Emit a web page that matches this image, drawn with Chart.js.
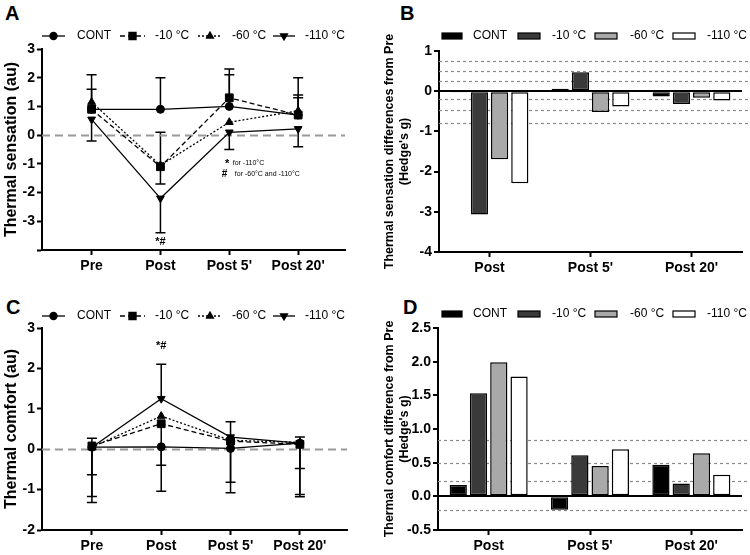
<!DOCTYPE html>
<html>
<head>
<meta charset="utf-8">
<script src="https://cdn.jsdelivr.net/npm/chart.js@4.4.1/dist/chart.umd.min.js"></script>
<style>
  body { margin: 0; background: #fff; width: 750px; height: 555px; position: relative; overflow: hidden; }
  canvas { position: absolute; }
  .lab { position: absolute; font: bold 20px "Liberation Sans", Arial, sans-serif; color: #000; }
</style>
</head>
<body>
<div class="lab" style="left:5px;top:2px">A</div>
<div class="lab" style="left:400px;top:2px">B</div>
<div class="lab" style="left:6px;top:296px">C</div>
<div class="lab" style="left:403px;top:296px">D</div>
<canvas id="chartA" width="375" height="275" style="left:0;top:0"></canvas>
<canvas id="chartB" width="375" height="275" style="left:375px;top:0"></canvas>
<canvas id="chartC" width="375" height="280" style="left:0;top:275px"></canvas>
<canvas id="chartD" width="375" height="280" style="left:375px;top:275px"></canvas>
<script>
// categories
const timeLabels = ['Pre', 'Post', "Post 5'", "Post 20'"];
const diffLabels = ['Post', "Post 5'", "Post 20'"];
const groups = ['CONT', '-10 °C', '-60 °C', '-110 °C'];

// A - thermal sensation (au)
const sensCONT = [0.9, 0.9, 1.0, 0.7];
const sens10 = [0.9, -1.1, 1.3, 0.7];
const sens60 = [1.15, -1.05, 0.45, 0.85];
const sens110 = [0.55, -2.2, 0.1, 0.22];
// end of the (one sided) error bars
const sensErrCONT = [1.6, 2.0, 2.1, 1.4];
const sensErr10 = [null, -1.7, 2.3, 1.3];
const sensErr60 = [2.1, 0.1, null, 2.0];
const sensErr110 = [-0.2, -3.4, -0.5, -0.4];

// B - thermal sensation differences from Pre (Hedge's g)
const sensDiffCONT = [-0.02, 0.06, -0.13];
const sensDiff10 = [-3.07, 0.47, -0.32];
const sensDiff60 = [-1.69, -0.52, -0.16];
const sensDiff110 = [-2.29, -0.38, -0.23];
const sensRefs = [0.74, 0.5, 0.26, -0.19, -0.46, -0.78];

// C - thermal comfort (au)
const compCONT = [0.05, 0.06, 0.02, 0.15];
const comp10 = [0.08, 0.63, 0.2, 0.12];
const comp60 = [0.05, 0.82, 0.22, 0.17];
const comp110 = [0.05, 1.25, 0.3, 0.15];
const compErrCONT = [-1.32, -1.04, -1.08, -1.18];
const compErr10 = [-1.17, -0.4, -0.82, -1.12];
const compErr60 = [-0.63, null, null, -0.48];
const compErr110 = [0.27, 2.1, 0.68, 0.3];

// D - thermal comfort difference from Pre (Hedge's g)
const compDiffCONT = [0.17, -0.2, 0.47];
const compDiff10 = [1.53, 0.61, 0.19];
const compDiff60 = [1.99, 0.45, 0.64];
const compDiff110 = [1.78, 0.7, 0.32];
const compRefs = [0.84, 0.49, 0.23, -0.2];

const FONT = '"Liberation Sans", Arial, sans-serif';
Chart.defaults.color = '#000';
Chart.defaults.font.family = FONT;

const dashes = [[], [5, 3], [2, 2], []];
const markers = ['circle', 'rect', 'triangle', 'triangle'];
const rotations = [0, 0, 0, 180];
const radii = [4, 5.5, 4.5, 4.5];
const barColors = ['#000000', '#3a3a3a', '#a9a9a9', '#ffffff'];

// error bars drawn through the scales
const errPlugin = {
  id: 'errBars',
  beforeDatasetsDraw(chart, args, opts) {
    if (!opts.ends) return;
    const ctx = chart.ctx, x = chart.scales.x, y = chart.scales.y;
    ctx.save();
    ctx.strokeStyle = '#000';
    ctx.lineWidth = 1.5;
    opts.ends.forEach((arr, d) => {
      arr.forEach((end, i) => {
        if (end === null) return;
        const px = x.getPixelForValue(i);
        const p0 = y.getPixelForValue(chart.data.datasets[d].data[i].y);
        const p1 = y.getPixelForValue(end);
        ctx.beginPath();
        ctx.moveTo(px, p0); ctx.lineTo(px, p1);
        ctx.moveTo(px - 5, p1); ctx.lineTo(px + 5, p1);
        ctx.stroke();
      });
    });
    ctx.restore();
  }
};

// horizontal reference lines
const refPlugin = {
  id: 'refLines',
  beforeDatasetsDraw(chart, args, opts) {
    if (!opts.values) return;
    const ctx = chart.ctx, a = chart.chartArea, y = chart.scales.y;
    ctx.save();
    ctx.setLineDash(opts.dash);
    ctx.strokeStyle = opts.color;
    ctx.lineWidth = opts.width;
    opts.values.forEach(v => {
      const py = Math.round(y.getPixelForValue(v)) + 0.5;
      ctx.beginPath();
      ctx.moveTo(a.left, py);
      ctx.lineTo(a.right + (opts.extend || 0), py);
      ctx.stroke();
    });
    ctx.restore();
  }
};

// legend in the style of the figure
const legendPlugin = {
  id: 'figLegend',
  afterDraw(chart, args, opts) {
    if (!opts.items) return;
    const ctx = chart.ctx;
    ctx.save();
    opts.items.forEach((it, i) => {
      const ds = chart.data.datasets[i];
      ctx.strokeStyle = '#000';
      if (opts.kind === 'line') {
        ctx.lineWidth = 1.3;
        ctx.setLineDash(dashes[i]);
        ctx.beginPath();
        ctx.moveTo(it.x0, opts.y); ctx.lineTo(it.x1, opts.y);
        ctx.stroke();
        ctx.setLineDash([]);
        ctx.fillStyle = '#000';
        Chart.helpers.drawPoint(ctx, { pointStyle: markers[i], rotation: rotations[i], radius: radii[i] - 0.5, borderWidth: 1 }, (it.x0 + it.x1) / 2, opts.y);
      } else {
        ctx.lineWidth = 1.2;
        ctx.fillStyle = ds.backgroundColor;
        ctx.fillRect(it.x0, opts.y - 3, it.x1 - it.x0, 6);
        ctx.strokeRect(it.x0, opts.y - 3, it.x1 - it.x0, 6);
      }
      ctx.fillStyle = '#000';
      ctx.font = '12px ' + FONT;
      ctx.textBaseline = 'middle';
      ctx.textAlign = 'left';
      ctx.fillText(ds.label, it.tx, opts.y);
    });
    ctx.restore();
  }
};

// small text notes placed in data coordinates
const notesPlugin = {
  id: 'notes',
  afterDraw(chart, args, opts) {
    if (!opts.items) return;
    const ctx = chart.ctx, x = chart.scales.x, y = chart.scales.y;
    ctx.save();
    ctx.fillStyle = '#000';
    ctx.textBaseline = 'middle';
    opts.items.forEach(n => {
      ctx.font = n.font;
      ctx.textAlign = n.align || 'center';
      ctx.fillText(n.text, x.getPixelForValue(n.x), y.getPixelForValue(n.y));
    });
    ctx.restore();
  }
};

const tickFont = { size: 14, weight: 'bold' };

function axisStyle() {
  return {
    grid: { drawOnChartArea: false, offset: false, tickLength: 5, tickColor: '#000', tickWidth: 2 },
    border: { color: '#000', width: 2 }
  };
}

function linePanel(id, series, errs, yMin, yMax, title, lay, legendY, notes) {
  new Chart(document.getElementById(id), {
    type: 'line',
    data: {
      datasets: series.map((vals, i) => ({
        label: groups[i],
        data: vals.map((v, j) => ({ x: j, y: v })),
        borderColor: '#000',
        backgroundColor: '#000',
        borderWidth: 1.3,
        borderDash: dashes[i],
        pointStyle: markers[i],
        pointRotation: rotations[i],
        pointRadius: radii[i],
        pointBorderWidth: 1,
        tension: 0
      }))
    },
    options: {
      responsive: false,
      animation: false,
      devicePixelRatio: 1,
      layout: { padding: { top: lay.top, right: lay.right, left: 0, bottom: 0 } },
      plugins: {
        legend: { display: false },
        tooltip: { enabled: false },
        errBars: { ends: errs },
        refLines: { values: [0], dash: [8, 5], color: '#9a9a9a', width: 2 },
        figLegend: {
          kind: 'line', y: legendY,
          items: [{ x0: 42, x1: 65, tx: 77 }, { x0: 120, x1: 145, tx: 155 }, { x0: 198, x1: 222, tx: 232 }, { x0: 273, x1: 295, tx: 305 }]
        },
        notes: { items: notes }
      },
      scales: {
        x: Object.assign({
          type: 'linear', min: -0.72, max: 3.68,
          afterBuildTicks: a => { a.ticks = timeLabels.map((_, i) => ({ value: i })); },
          afterFit: s => { s.height = lay.xh; },
          ticks: { callback: v => timeLabels[v], font: tickFont, padding: 3, autoSkip: false, maxRotation: 0 }
        }, axisStyle()),
        y: Object.assign({
          min: yMin, max: yMax,
          afterFit: s => { s.width = lay.yw; },
          ticks: { stepSize: 1, font: tickFont, padding: 2, callback: v => (v === lay.hide ? '' : v) },
          title: { display: true, text: title, font: { size: 16, weight: 'bold' }, padding: { top: 2, bottom: 0 } }
        }, axisStyle())
      }
    },
    plugins: [errPlugin, refPlugin, legendPlugin, notesPlugin]
  });
}

function barPanel(id, series, refs, yMin, yMax, step, title, lay, legendY) {
  new Chart(document.getElementById(id), {
    type: 'bar',
    data: {
      labels: diffLabels,
      datasets: series.map((vals, i) => ({
        label: groups[i],
        data: vals,
        backgroundColor: barColors[i],
        borderColor: '#000',
        borderWidth: 1.5,
        borderSkipped: false,
        categoryPercentage: 0.8,
        barPercentage: 0.85
      }))
    },
    options: {
      responsive: false,
      animation: false,
      devicePixelRatio: 1,
      layout: { padding: { top: lay.top, right: lay.right, left: 0, bottom: 0 } },
      plugins: {
        legend: { display: false },
        tooltip: { enabled: false },
        refLines: { values: refs, dash: [3, 3], color: '#8a8a8a', width: 1.2, extend: 8 },
        figLegend: {
          kind: 'box', y: legendY,
          items: [{ x0: 67, x1: 87, tx: 98 }, { x0: 143, x1: 165, tx: 177 }, { x0: 220, x1: 242, tx: 255 }, { x0: 298, x1: 320, tx: 332 }]
        }
      },
      scales: {
        x: Object.assign({
          afterFit: s => { s.height = lay.xh; },
          ticks: { font: tickFont, padding: 3, autoSkip: false, maxRotation: 0 }
        }, axisStyle()),
        y: {
          min: yMin, max: yMax,
          afterFit: s => { s.width = lay.yw; },
          ticks: { stepSize: step, font: tickFont, padding: 2, callback: v => (step < 1 ? v.toFixed(1) : v) },
          grid: {
            drawOnChartArea: true, tickLength: 5, tickColor: '#000', tickWidth: 2,
            color: c => (c.tick && c.tick.value === 0 ? '#000' : 'rgba(0,0,0,0)'),
            lineWidth: 2
          },
          border: { color: '#000', width: 2 },
          title: { display: true, text: title, font: { size: 12.5, weight: 'bold' }, padding: { top: 7, bottom: 0 } }
        }
      }
    },
    plugins: [refPlugin, legendPlugin]
  });
}

linePanel('chartA', [sensCONT, sens10, sens60, sens110], [sensErrCONT, sensErr10, sensErr60, sensErr110],
  -4, 3, 'Thermal sensation (au)', { top: 49, right: 30, xh: 25, yw: 42, hide: -4 }, 36,
  [
    { x: 1, y: -3.72, text: '*#', font: 'bold 11px ' + FONT },
    { x: 1.97, y: -1.0, text: '*', font: 'bold 11px ' + FONT },
    { x: 2.05, y: -0.98, text: 'for -110°C', font: '7px ' + FONT, align: 'left' },
    { x: 1.93, y: -1.35, text: '#', font: 'bold 10px ' + FONT },
    { x: 2.08, y: -1.35, text: 'for -60°C and -110°C', font: '7px ' + FONT, align: 'left' }
  ]);

barPanel('chartB', [sensDiffCONT, sensDiff10, sensDiff60, sensDiff110], sensRefs, -4, 1, 1,
  ['Thermal sensation differences from Pre', "(Hedge's g)"], { top: 51, right: 8, xh: 23, yw: 64 }, 36);

linePanel('chartC', [compCONT, comp10, comp60, comp110], [compErrCONT, compErr10, compErr60, compErr110],
  -2, 3, 'Thermal comfort (au)', { top: 53, right: 28, xh: 25, yw: 42, hide: null }, 41,
  [{ x: 1, y: 2.56, text: '*#', font: 'bold 11px ' + FONT }]);

barPanel('chartD', [compDiffCONT, compDiff10, compDiff60, compDiff110], compRefs, -0.5, 2.5, 0.5,
  ['Thermal comfort difference from Pre', "(Hedge's g)"], { top: 53, right: 8, xh: 25, yw: 63 }, 39);
</script>
</body>
</html>
